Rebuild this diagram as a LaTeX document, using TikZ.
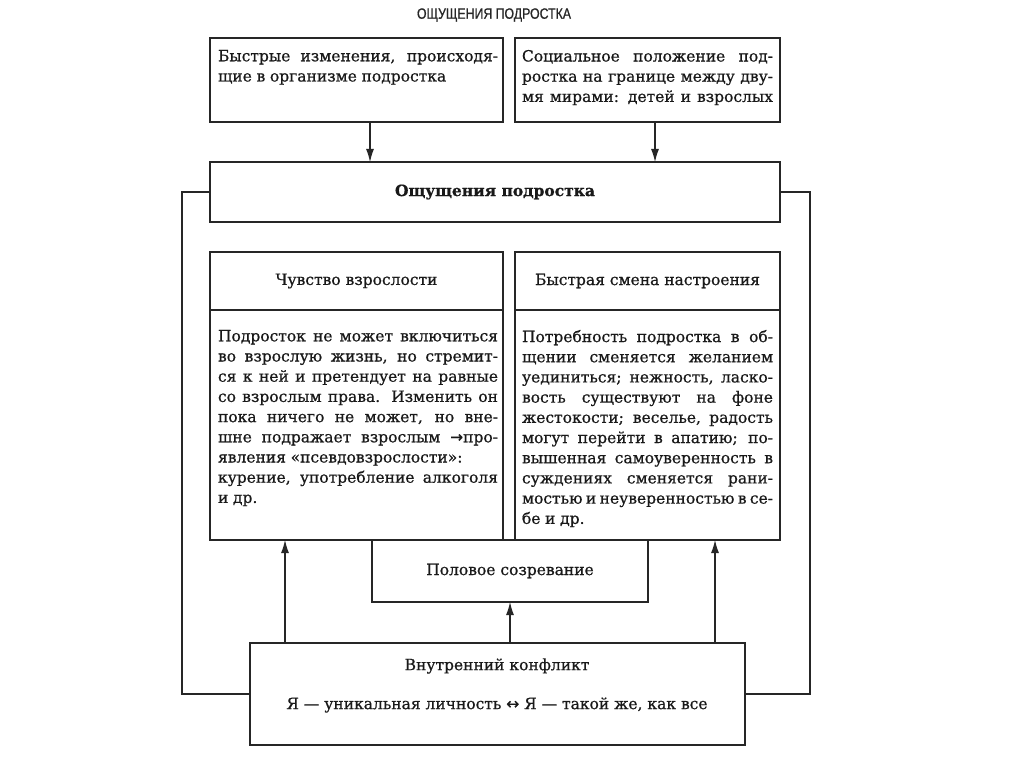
\documentclass[tikz,border=0pt]{standalone}
\usepackage{fontspec}
\setmainfont[FakeBold=0.7]{DejaVu Serif}
\newfontfamily\titlefont[FakeStretch=0.82,FakeBold=0.8]{Liberation Sans}
\newfontfamily\arrfont[FakeBold=0.7]{DejaVu Sans}
\usetikzlibrary{arrows.meta}
\newcommand\bodyfont{\fontsize{15.5}{20.2}\selectfont}
\newcommand\jl[1]{\hbox to\hsize{\spaceskip=0.3em plus 3em minus 0.15em #1}}
\newcommand\nl[1]{\hbox{\spaceskip=0.3em #1}}
\newcommand\block[2]{\vbox{\hsize=#1\relax #2}}
\begin{document}
\begin{tikzpicture}[x=1pt,y=-1pt,
  box/.style={draw=black!85, line width=1.1pt, inner sep=0pt, outer sep=0pt},
  arr/.style={draw=black!85, line width=1.1pt, -{Latex[length=13pt,width=8pt]}},
  conn/.style={draw=black!85, line width=1.1pt},
  body/.style={anchor=north west, inner sep=0pt, outer sep=0pt, font=\bodyfont, text=black!90},
  head/.style={inner sep=0pt, font=\bodyfont, text=black!90}]
\fill[white] (0,0) rectangle (1024,767);
\useasboundingbox (0,0) rectangle (1024,767);

% title
\node[inner sep=0pt, font=\titlefont\fontsize{15}{18}\selectfont, text=black!85] (title) at (494,15) {ОЩУЩЕНИЯ ПОДРОСТКА};

% boxes
\node[box, minimum width=293pt, minimum height=84pt] (A) at (356.5,80) {};
\node[box, minimum width=265pt, minimum height=84pt] (B) at (647.5,80) {};
\node[box, minimum width=570pt, minimum height=60pt] (C) at (495,192) {};
\node[box, minimum width=276pt, minimum height=62pt] (F) at (510,571) {};
\node[box, minimum width=293pt, minimum height=58pt] (Dh) at (356.5,281) {};
\node[box, minimum width=293pt, minimum height=230pt] (Db) at (356.5,425) {};
\node[box, minimum width=265pt, minimum height=58pt] (Eh) at (647.5,281) {};
\node[box, minimum width=265pt, minimum height=230pt] (Eb) at (647.5,425) {};
\node[box, minimum width=495pt, minimum height=102pt] (G) at (497.5,694) {};

% texts
\node[body] (At) at (218,50) {\block{280pt}{%
\jl{Быстрые изменения, происходя-}
\nl{щие в организме подростка}}};
\node[body] (Bt) at (522,50) {\block{251pt}{%
\jl{Социальное положение под-}
\jl{ростка на границе между дву-}
\jl{мя мирами: детей и взрослых}}};
\node[head, font=\bodyfont\bfseries] (Ct) at (C.center) {Ощущения подростка};
\node[head] (Dht) at (Dh.center) {Чувство взрослости};
\node[head] (Eht) at (Eh.center) {Быстрая смена настроения};
\node[body] (Dt) at (218,330) {\block{280pt}{%
\jl{Подросток не может включиться}
\jl{во взрослую жизнь, но стремит-}
\jl{ся к ней и претендует на равные}
\jl{со взрослым права. Изменить он}
\jl{пока ничего не может, но вне-}
\jl{шне подражает взрослым {\arrfont →}про-}
\nl{явления «псевдовзрослости»:}
\jl{курение, употребление алкоголя}
\nl{и др.}}};
\node[body] (Et) at (522,330) {\block{251pt}{%
\jl{Потребность подростка в об-}
\jl{щении сменяется желанием}
\jl{уединиться; нежность, ласко-}
\jl{вость существуют на фоне}
\jl{жестокости; веселье, радость}
\jl{могут перейти в апатию; по-}
\jl{вышенная самоуверенность в}
\jl{суждениях сменяется рани-}
\jl{мостью и неуверенностью в се-}
\nl{бе и др.}}};
\node[head] (Ft) at (F.center) {Половое созревание};
\node[head] (Gt1) at (497,666) {Внутренний конфликт};
\node[head] (Gt2) at (497,705) {Я — уникальная личность {\arrfont ↔} Я — такой же, как все};

% connector x positions
\coordinate (xa) at (370,0);
\coordinate (xb) at (655,0);
\coordinate (u1) at (285,0);
\coordinate (u2) at (510,0);
\coordinate (u3) at (715,0);

\draw[arr] (A.south -| xa) -- (C.north -| xa);
\draw[arr] (B.south -| xb) -- (C.north -| xb);
\draw[arr] (G.north -| u1) -- (Db.south -| u1);
\draw[arr] (G.north -| u2) -- (F.south -| u2);
\draw[arr] (G.north -| u3) -- (Eb.south -| u3);
\draw[conn] (C.west) -- ++(-28,0) |- (G.west);
\draw[conn] (C.east) -- ++(30,0) |- (G.east);
\end{tikzpicture}
\end{document}
